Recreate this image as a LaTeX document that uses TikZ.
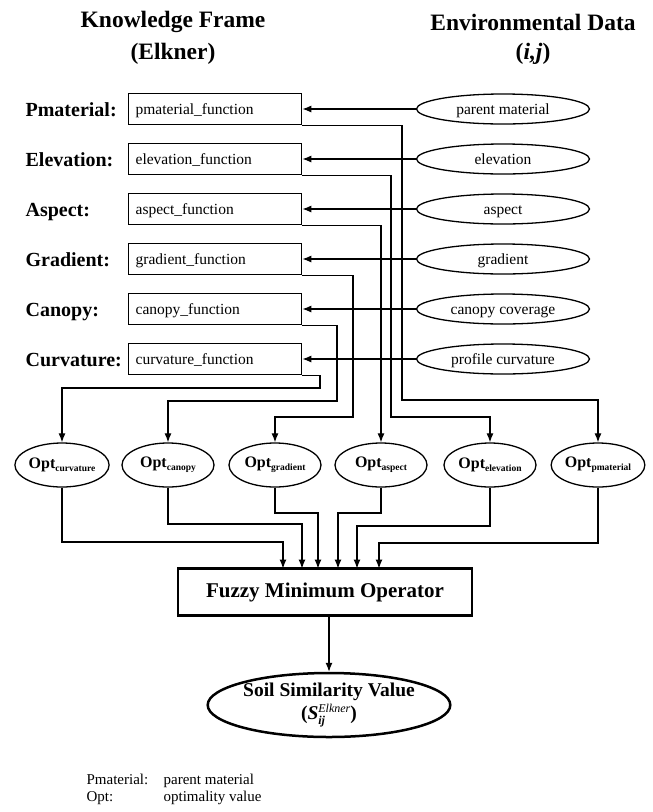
\documentclass[tikz,border=0pt]{standalone}
\usepackage{fontspec}
\setmainfont{Liberation Serif}
\usetikzlibrary{arrows.meta,shapes.geometric}
\newcommand\optlab[1]{Opt\raisebox{-3pt}{\fontsize{9.5}{10}\selectfont #1}}
\begin{document}
\begin{tikzpicture}[x=1pt,y=-1pt,
  line width=1.2pt,
  head/.style={font=\fontsize{23.5}{26}\selectfont\bfseries, inner sep=0},
  rowlab/.style={font=\fontsize{20}{22}\selectfont\bfseries, anchor=base west, inner sep=0},
  fnbox/.style={draw, line width=1.3pt, anchor=west, minimum width=173pt, minimum height=31pt,
    text width=159pt, align=left, inner xsep=7pt, inner ysep=0pt,
    text height=12.5pt, text depth=2pt, font=\fontsize{15.5}{17}\selectfont},
  envell/.style={draw, ellipse, line width=1.3pt, minimum width=173pt, minimum height=30pt,
    inner sep=0pt, text height=12.5pt, text depth=2pt, font=\fontsize{15.5}{17}\selectfont},
  optell/.style={draw, ellipse, line width=1.3pt, minimum width=92pt, minimum height=44pt,
    inner sep=0pt, font=\fontsize{16}{18}\selectfont\bfseries},
  fuzzy/.style={draw, line width=2.5pt, minimum width=294pt, minimum height=47pt,
    font=\fontsize{21}{23}\selectfont\bfseries},
  soil/.style={draw, ellipse, line width=2.5pt, minimum width=215pt, minimum height=64pt,
    inner sep=0pt, align=center, font=\fontsize{19.5}{21}\selectfont\bfseries},
  foot/.style={anchor=base west, inner sep=0pt, font=\fontsize{15}{17}\selectfont},
  arr/.style={-{Latex[length=9pt,width=7pt]}, line width=1.2pt}]

\useasboundingbox (0,0) rectangle (653,812);

% column headings
\node[head] (kf1) at (173,22) {Knowledge Frame};
\node[head] (kf2) at (173,54) {(Elkner)};
\node[head] (ed1) at (533,22) {Environmental Data};
\node[head] (ed2) at (533,54) {(\textit{i,j})};

% knowledge frame rows
\node[rowlab] (lp) at (25,116) {Pmaterial:};
\node[rowlab] (le) at (25,166) {Elevation:};
\node[rowlab] (la) at (25,216) {Aspect:};
\node[rowlab] (lg) at (25,266) {Gradient:};
\node[rowlab] (lc) at (25,316) {Canopy:};
\node[rowlab] (lv) at (25,366) {Curvature:};

\node[fnbox] (pf) at (128,109) {pmaterial\_function};
\node[fnbox] (ef) at (128,159) {elevation\_function};
\node[fnbox] (af) at (128,209) {aspect\_function};
\node[fnbox] (gf) at (128,259) {gradient\_function};
\node[fnbox] (cf) at (128,309) {canopy\_function};
\node[fnbox] (vf) at (128,359) {curvature\_function};

% environmental data layers
\node[envell] (pe) at (503,109) {parent material};
\node[envell] (ee) at (503,159) {elevation};
\node[envell] (ae) at (503,209) {aspect};
\node[envell] (ge) at (503,259) {gradient};
\node[envell] (ce) at (503,309) {canopy coverage};
\node[envell] (ve) at (503,359) {profile curvature};

\foreach \e/\f in {pe/pf, ee/ef, ae/af, ge/gf, ce/cf, ve/vf}
  \draw[arr] (\e.west) -- (\f.east);

% optimality values
\node[optell] (ov) at (62,465)  {\optlab{curvature}};
\node[optell] (oc) at (168,465) {\optlab{canopy}};
\node[optell] (og) at (275,465) {\optlab{gradient}};
\node[optell] (oa) at (381,465) {\optlab{aspect}};
\node[optell] (oe) at (490,465) {\optlab{elevation}};
\node[optell] (op) at (598,465) {\optlab{pmaterial}};

% function outputs routed to the optimality values
\draw[arr] (pf.south east) -| (402,400) -| (op.north);
\draw[arr] (ef.south east) -| (391,417) -| (oe.north);
\draw[arr] (af.south east) -| (oa.north);
\draw[arr] (gf.south east) -| (353,417) -| (og.north);
\draw[arr] (cf.south east) -| (337,401) -| (oc.north);
\draw[arr] (vf.south east) -| (320,388) -| (ov.north);

% fuzzy minimum operator
\node[fuzzy] (fz) at (325,592) {Fuzzy Minimum Operator};
\coordinate (i1) at (283,568.5);
\coordinate (i2) at (302,568.5);
\coordinate (i3) at (318,568.5);
\coordinate (i4) at (338,568.5);
\coordinate (i5) at (357,568.5);
\coordinate (i6) at (379,568.5);

\draw[arr] (ov.south) |- (283,542) -- (i1);
\draw[arr] (oc.south) |- (302,524) -- (i2);
\draw[arr] (og.south) |- (318,513) -- (i3);
\draw[arr] (oa.south) |- (338,513) -- (i4);
\draw[arr] (oe.south) |- (357,526) -- (i5);
\draw[arr] (op.south) |- (379,543) -- (i6);

% result
\node[soil] (sv) at (329,705) {Soil Similarity Value\\[2pt]
  (\textit{S}\rlap{\raisebox{-5pt}{\fontsize{12}{13}\selectfont\textit{ij}}}\raisebox{7pt}{\fontsize{12}{13}\selectfont\mdseries\textit{Elkner}})};
\draw[arr] (fz.south -| sv.north) -- (sv.north);

% legend
\node[foot] (k1) at (86,784) {Pmaterial:};
\node[foot] (k2) at (163,784) {parent material};
\node[foot] (k3) at (86,801) {Opt:};
\node[foot] (k4) at (163,801) {optimality value};
\end{tikzpicture}
\end{document}
